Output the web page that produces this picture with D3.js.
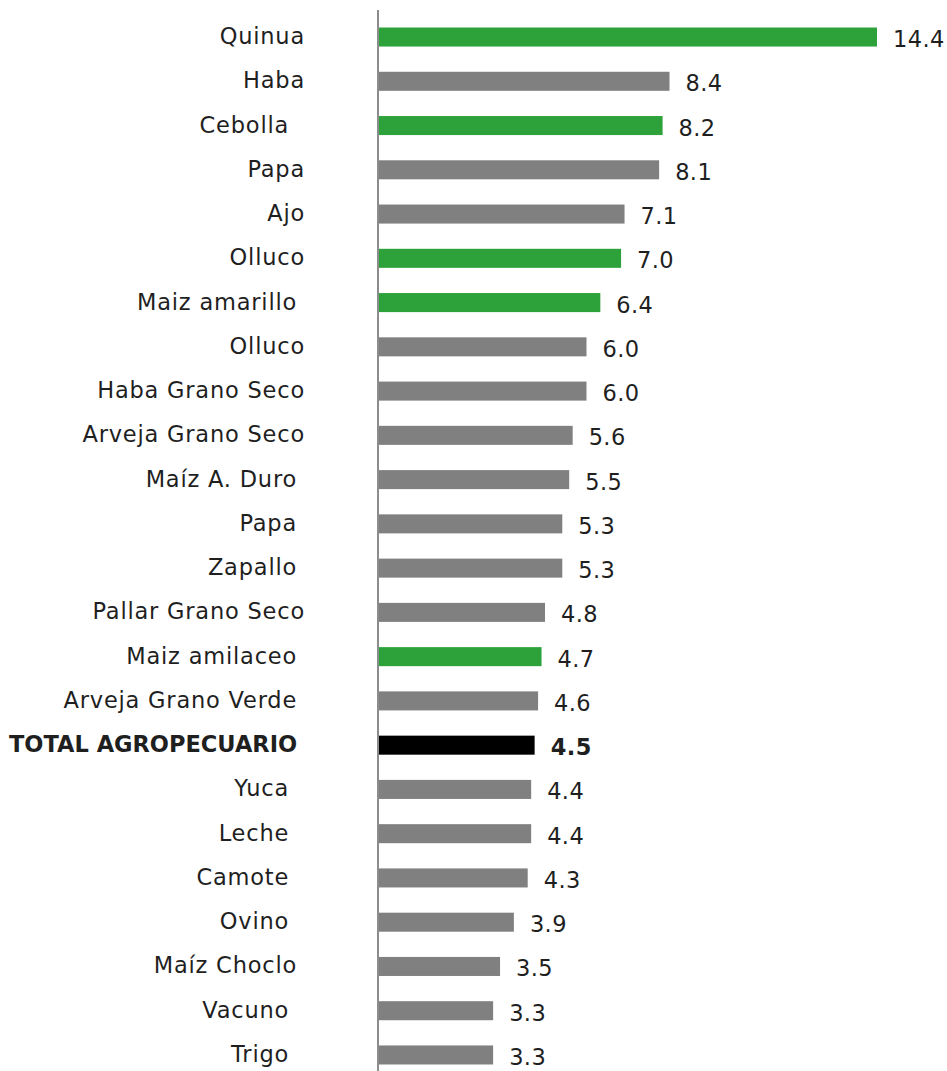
<!DOCTYPE html>
<html>
<head>
<meta charset="utf-8">
<script src="https://cdn.jsdelivr.net/npm/d3@7"></script>
<style>
  html, body { margin: 0; padding: 0; background: #fff; }
  svg { display: block; }
  text { white-space: pre; }
</style>
</head>
<body>
<svg id="chart" width="947" height="1071"></svg>
<script>
// ---- data ----
const categories = [
  "Quinua", "Haba", "Cebolla  ", "Papa", "Ajo", "Olluco", "Maiz amarillo ", "Olluco",
  "Haba Grano Seco", "Arveja Grano Seco", "Maíz A. Duro ", "Papa ", "Zapallo ",
  "Pallar Grano Seco", "Maiz amilaceo ", "Arveja Grano Verde ", "TOTAL AGROPECUARIO ",
  "Yuca  ", "Leche  ", "Camote  ", "Ovino  ", "Maíz Choclo ", "Vacuno  ", "Trigo  "
];
const values = [14.4, 8.4, 8.2, 8.1, 7.1, 7.0, 6.4, 6.0, 6.0, 5.6, 5.5, 5.3, 5.3, 4.8, 4.7, 4.6, 4.5, 4.4, 4.4, 4.3, 3.9, 3.5, 3.3, 3.3];
const groups = ["g","o","g","o","o","g","g","o","o","o","o","o","o","o","g","o","t","o","o","o","o","o","o","o"];
const valueLabels = ["14.4","8.4","8.2","8.1","7.1","7.0","6.4","6.0","6.0","5.6","5.5","5.3","5.3","4.8","4.7","4.6","4.5","4.4","4.4","4.3","3.9","3.5","3.3","3.3"];

const colorMap = { g: "#2ea23a", o: "#808080", t: "#000000" };

const rows = categories.map((c, i) => ({ key: i, label: c, value: values[i], group: groups[i], vlabel: valueLabels[i] }));

const svg = d3.select("#chart");
const font = "'DejaVu Sans', sans-serif";

const x = d3.scaleLinear().domain([0, 14.4]).range([379, 877]);
const y = d3.scaleBand()
  .domain(rows.map(d => d.key))
  .range([14.9, 1077.1])
  .paddingInner(0.57)
  .paddingOuter(0.285);

// bars
svg.append("g").selectAll("rect").data(rows).join("rect")
  .attr("x", x(0))
  .attr("y", d => y(d.key))
  .attr("width", d => x(d.value) - x(0))
  .attr("height", y.bandwidth())
  .attr("fill", d => colorMap[d.group]);

// axis line
const axis = svg.append("g").attr("transform", `translate(${x(0) - 1},0)`)
  .call(d3.axisLeft(y).tickSize(0).tickFormat(""));
axis.select(".domain").attr("stroke", "#8c8c8c").attr("stroke-width", 2)
  .attr("d", "M0,10V1071");

// category labels
svg.append("g").selectAll("text").data(rows).join("text")
  .attr("x", 305)
  .attr("y", d => y(d.key) + y.bandwidth() / 2 - 1)
  .attr("text-anchor", "end")
  .attr("dominant-baseline", "central")
  .attr("font-family", font)
  .attr("font-size", 22.5)
  .attr("letter-spacing", d => d.group === "t" ? "0px" : "0.8px")
  .attr("font-weight", d => d.group === "t" ? "bold" : "normal")
  .attr("fill", "#1f1f1f")
  .text(d => d.label);

// value labels
svg.append("g").selectAll("text").data(rows).join("text")
  .attr("x", d => x(d.value) + 16)
  .attr("y", d => y(d.key) + y.bandwidth() / 2 + 2)
  .attr("dominant-baseline", "central")
  .attr("font-family", font)
  .attr("font-size", 22.5)
  .attr("letter-spacing", "0.4px")
  .attr("font-weight", d => d.group === "t" ? "bold" : "normal")
  .attr("fill", "#1f1f1f")
  .text(d => d.vlabel);
</script>
</body>
</html>
